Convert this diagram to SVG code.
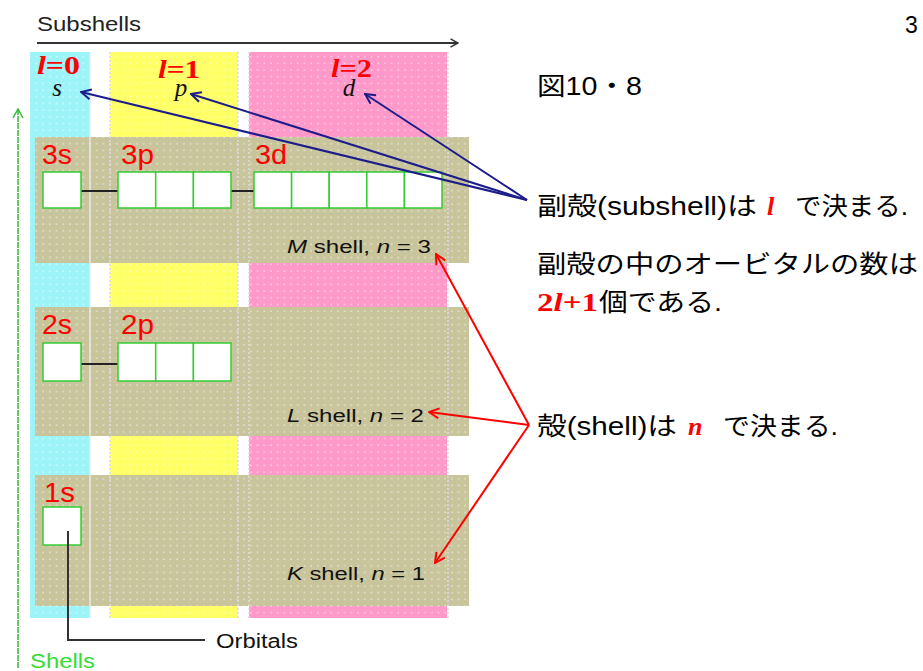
<svg xmlns="http://www.w3.org/2000/svg" width="923" height="671" viewBox="0 0 923 671">
<style>
.sans{font-family:"Liberation Sans",Arial,sans-serif}
.ser{font-family:"Liberation Serif","Times New Roman",serif}
.jp{font-family:"Liberation Sans","Noto Sans CJK JP",sans-serif;font-size:25px;fill:#000}
.lab{font-family:"Liberation Sans",Arial,sans-serif;font-size:27px;fill:#ff0000}
.shell{font-family:"Liberation Sans",Arial,sans-serif;font-size:18px;fill:#111}
.lq{font-family:"Liberation Serif","Times New Roman",serif;font-weight:bold;font-size:26px;fill:#ff0000}
.it{font-style:italic}
.orb{fill:#fff;stroke:#33cc33;stroke-width:1.5}
.tie{stroke:#222;stroke-width:2}
.band{fill:#c8c49b}
.blue{stroke:#1c1c8a;stroke-width:2;fill:none}
.red{stroke:#ff0000;stroke-width:2;fill:none}
.vl{stroke:#e8e8e8;stroke-width:1.5}
.vd{stroke:#dcdce8;stroke-width:1.5;stroke-dasharray:2 2}
</style>
<defs>
<pattern id="dots" width="6.7" height="6.7" patternUnits="userSpaceOnUse">
<circle cx="3" cy="3" r="0.8" fill="#ffffff" fill-opacity="0.6"/>
</pattern>
<marker id="mb" viewBox="0 0 12 12" refX="11" refY="6" markerWidth="12" markerHeight="12" markerUnits="userSpaceOnUse" orient="auto">
<path d="M1,1 L11,6 L1,11" fill="none" stroke="#1c1c8a" stroke-width="2"/>
</marker>
<marker id="mr" viewBox="0 0 12 12" refX="11" refY="6" markerWidth="12" markerHeight="12" markerUnits="userSpaceOnUse" orient="auto">
<path d="M1,1 L11,6 L1,11" fill="none" stroke="#ff0000" stroke-width="2"/>
</marker>
<marker id="mg" viewBox="0 0 12 12" refX="11" refY="6" markerWidth="12" markerHeight="12" markerUnits="userSpaceOnUse" orient="auto">
<path d="M2,1 L11,6 L2,11" fill="none" stroke="#33bb33" stroke-width="1.5"/>
</marker>
<marker id="mk" viewBox="0 0 12 12" refX="11" refY="6" markerWidth="10" markerHeight="10" markerUnits="userSpaceOnUse" orient="auto">
<path d="M2,1 L11,6 L2,11" fill="none" stroke="#333" stroke-width="1.8"/>
</marker>
</defs>
<rect width="923" height="671" fill="#fff"/>

<g id="columns">
<rect id="col-s" x="30" y="52" width="60" height="566" fill="#9cf4f8"/>
<rect id="col-p" x="110" y="52" width="128" height="566" fill="#ffff66"/>
<rect id="col-d" x="249" y="52" width="198" height="566" fill="#ff99c9"/>
</g>
<g id="bands">
<rect id="band-M" class="band" x="35" y="137" width="434" height="126"/>
<rect id="band-L" class="band" x="35" y="307" width="434" height="129"/>
<rect id="band-K" class="band" x="35" y="475" width="434" height="131"/>
</g>
<rect x="30" y="52" width="440" height="566" fill="url(#dots)"/>
<g id="gridlines">
<line class="vl" x1="90" y1="52" x2="90" y2="618"/>
<line class="vd" x1="110" y1="52" x2="110" y2="618"/>
<line class="vd" x1="238" y1="52" x2="238" y2="618"/>
<line class="vd" x1="249" y1="52" x2="249" y2="618"/>
<line class="vd" x1="448" y1="52" x2="448" y2="618"/>
</g>

<g id="subshells-axis">
<text class="sans" x="37" y="31" font-size="20" fill="#222" textLength="104" lengthAdjust="spacingAndGlyphs">Subshells</text>
</g>
<g id="shells-axis">
<text class="sans" x="30" y="668" font-size="20" fill="#33dd33" textLength="65" lengthAdjust="spacingAndGlyphs">Shells</text>
</g>

<g id="subshell-s">
<text class="lq" x="37" y="74" textLength="43" lengthAdjust="spacingAndGlyphs"><tspan class="it">l</tspan>=0</text>
<text class="ser it" x="57" y="96" font-size="25" fill="#111" text-anchor="middle">s</text>
</g>
<g id="subshell-p">
<text class="lq" x="158" y="78" textLength="42" lengthAdjust="spacingAndGlyphs"><tspan class="it">l</tspan>=1</text>
<text class="ser it" x="181" y="96" font-size="25" fill="#111" text-anchor="middle">p</text>
</g>
<g id="subshell-d">
<text class="lq" x="331" y="77" textLength="41" lengthAdjust="spacingAndGlyphs"><tspan class="it">l</tspan>=2</text>
<text class="ser it" x="349" y="96" font-size="25" fill="#111" text-anchor="middle">d</text>
</g>

<g id="shell-M">
<text class="lab" x="42" y="164" textLength="30" lengthAdjust="spacingAndGlyphs">3s</text>
<text class="lab" x="121" y="164" textLength="33" lengthAdjust="spacingAndGlyphs">3p</text>
<text class="lab" x="255" y="164" textLength="32" lengthAdjust="spacingAndGlyphs">3d</text>
<line class="tie" x1="81" y1="191" x2="118" y2="191"/>
<line class="tie" x1="231" y1="191" x2="254" y2="191"/>
<rect class="orb" x="43" y="172" width="38" height="36"/>
<rect class="orb" x="118" y="172" width="37.7" height="36"/>
<rect class="orb" x="155.7" y="172" width="37.7" height="36"/>
<rect class="orb" x="193.4" y="172" width="37.6" height="36"/>
<rect class="orb" x="254" y="172" width="37.6" height="36"/>
<rect class="orb" x="291.6" y="172" width="37.6" height="36"/>
<rect class="orb" x="329.2" y="172" width="37.6" height="36"/>
<rect class="orb" x="366.8" y="172" width="37.6" height="36"/>
<rect class="orb" x="404.4" y="172" width="37.6" height="36"/>
<text class="shell" x="287" y="253" textLength="144" lengthAdjust="spacingAndGlyphs"><tspan class="it">M</tspan> shell, <tspan class="it">n</tspan> = 3</text>
</g>
<g id="shell-L">
<text class="lab" x="42" y="334" textLength="30" lengthAdjust="spacingAndGlyphs">2s</text>
<text class="lab" x="121" y="334" textLength="33" lengthAdjust="spacingAndGlyphs">2p</text>
<line class="tie" x1="81" y1="364" x2="118" y2="364"/>
<rect class="orb" x="43" y="343" width="38" height="38"/>
<rect class="orb" x="118" y="343" width="37.7" height="38"/>
<rect class="orb" x="155.7" y="343" width="37.7" height="38"/>
<rect class="orb" x="193.4" y="343" width="37.6" height="38"/>
<text class="shell" x="287" y="422" textLength="137" lengthAdjust="spacingAndGlyphs"><tspan class="it">L</tspan> shell, <tspan class="it">n</tspan> = 2</text>
</g>
<g id="shell-K">
<text class="lab" x="44" y="502" textLength="31" lengthAdjust="spacingAndGlyphs">1s</text>
<rect class="orb" x="43" y="507" width="38" height="38"/>
<text class="shell" x="287" y="580" textLength="138" lengthAdjust="spacingAndGlyphs"><tspan class="it">K</tspan> shell, <tspan class="it">n</tspan> = 1</text>
</g>
<g id="orbitals-label">
<text class="sans" x="216" y="648" font-size="20" fill="#111" textLength="82" lengthAdjust="spacingAndGlyphs">Orbitals</text>
</g>

<g id="page-number"><text class="sans" x="905" y="33" font-size="23" fill="#000">3</text></g>
<g id="fig-title"><text class="jp" x="537" y="95" textLength="105" lengthAdjust="spacingAndGlyphs">図10・8</text></g>
<g id="note-subshell">
<text class="jp" x="537" y="215" textLength="220" lengthAdjust="spacingAndGlyphs">副殻(subshell)は</text>
<text class="lq it" x="767" y="215" font-size="29">l</text>
<text class="jp" x="795" y="215" textLength="113" lengthAdjust="spacingAndGlyphs">で決まる.</text>
</g>
<g id="note-count">
<text class="jp" x="537" y="273" textLength="381" lengthAdjust="spacingAndGlyphs">副殻の中のオービタルの数は</text>
<text class="lq" x="537" y="311" font-size="27" textLength="61" lengthAdjust="spacingAndGlyphs">2<tspan class="it">l</tspan>+1</text>
<text class="jp" x="599" y="311" textLength="123" lengthAdjust="spacingAndGlyphs">個である.</text>
</g>
<g id="note-shell">
<text class="jp" x="537" y="435" textLength="140" lengthAdjust="spacingAndGlyphs">殻(shell)は</text>
<text class="lq it" x="688" y="435" font-size="29">n</text>
<text class="jp" x="723" y="435" textLength="115" lengthAdjust="spacingAndGlyphs">で決まる.</text>
</g>

<g id="connectors">
<line x1="37" y1="43" x2="458" y2="43" stroke="#333" stroke-width="1.8" marker-end="url(#mk)"/>
<line x1="18" y1="668" x2="18" y2="109" stroke="#33bb33" stroke-width="1.5" stroke-dasharray="6 1" marker-end="url(#mg)"/>
<polyline points="68,531 68,640 205,640" fill="none" stroke="#333" stroke-width="2"/>
<line class="blue" x1="527" y1="200" x2="81" y2="92" marker-end="url(#mb)"/>
<line class="blue" x1="527" y1="200" x2="191" y2="94" marker-end="url(#mb)"/>
<line class="blue" x1="527" y1="200" x2="365" y2="94" marker-end="url(#mb)"/>
<line class="red" x1="529" y1="425" x2="436" y2="254" marker-end="url(#mr)"/>
<line class="red" x1="529" y1="425" x2="429" y2="412" marker-end="url(#mr)"/>
<line class="red" x1="529" y1="425" x2="435" y2="563" marker-end="url(#mr)"/>
</g>
</svg>
